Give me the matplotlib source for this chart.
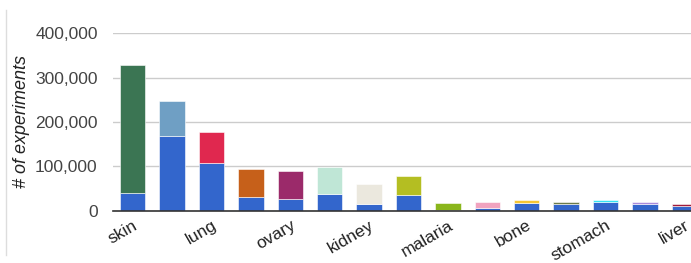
import matplotlib
matplotlib.use("Agg")
import matplotlib.pyplot as plt
from matplotlib.lines import Line2D

plt.rcParams['font.family'] = ['Liberation Sans', 'DejaVu Sans']

categories = ["skin", "", "lung", "", "ovary", "", "kidney", "", "malaria", "",
              "bone", "", "stomach", "", "liver"]
base_values = [39000, 169500, 108000, 30000, 26500, 38500, 16000, 35500, 800, 6000,
               17000, 14500, 19500, 14500, 11500]
top_values = [289000, 78500, 70500, 64000, 62500, 59500, 45000, 42000, 15500, 13500,
              7000, 5000, 4500, 4500, 4300]
top_colors = ["#3b7553", "#6f9fc4", "#e0284f", "#c6601a", "#9b2a6a", "#bfe6d6",
              "#ebe8de", "#b4be22", "#8ab61c", "#f1a3bf", "#f5c534", "#6c7b4b",
              "#35e3f3", "#a98bdb", "#a01c3c"]
base_color = "#3366cc"
y_ticks = [0, 100000, 200000, 300000, 400000]
y_tick_labels = ["0", "100,000", "200,000", "300,000", "400,000"]

fig = plt.figure(figsize=(6.91, 2.63), dpi=100)
ax = fig.add_axes([113/691, 1 - 210.7/263, 591/691, (210.7-33.3)/263])

x = list(range(len(categories)))
ax.bar(x, base_values, width=0.64, color=base_color, edgecolor="#ffffff",
       linewidth=0.4, zorder=3)
ax.bar(x, top_values, bottom=base_values, width=0.64, color=top_colors,
       edgecolor="#ffffff", linewidth=0.4, zorder=3)

ax.set_xlim(-0.5, len(categories) - 0.5)
ax.set_ylim(0, 400000)
ax.set_yticks(y_ticks)
ax.set_yticklabels(y_tick_labels, fontsize=12.5, color="#444444")
ax.grid(axis='y', color="#cccccc", linewidth=1, zorder=0)
ax.set_axisbelow(True)
ax.tick_params(axis='y', length=0, pad=11)
ax.tick_params(axis='x', length=0, pad=5)

ax.set_xticks(x)
ax.set_xticklabels(categories, rotation=30, ha='right', rotation_mode='anchor',
                   fontsize=12.5, color="#222222")

for s in ["top", "right", "left"]:
    ax.spines[s].set_visible(False)
ax.spines["bottom"].set_color("#333333")
ax.spines["bottom"].set_linewidth(1.2)
ax.spines["bottom"].set_zorder(4)

ax.set_ylabel("# of experiments", fontsize=13, style='italic', color="#222222",
              labelpad=4)

fig.add_artist(Line2D([6/691, 6/691], [1 - 10/263, 1 - 255/263],
                      color="#dddddd", linewidth=1))

fig.savefig("out.png", dpi=100)
